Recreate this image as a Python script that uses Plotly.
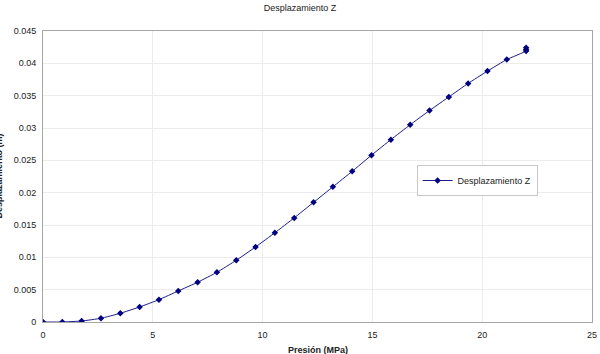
import plotly.graph_objects as go

presion = [0.0, 0.88, 1.76, 2.64, 3.52, 4.40, 5.28, 6.16, 7.04, 7.92, 8.80, 9.68,
           10.56, 11.44, 12.32, 13.20, 14.08, 14.96, 15.84, 16.72, 17.60, 18.48,
           19.36, 20.24, 21.12, 22.0, 22.0, 22.0]
desplazamiento = [0.0, 0.0, 0.00015, 0.00057, 0.00134, 0.00232, 0.00345, 0.0048,
                  0.00614, 0.00768, 0.00954, 0.0116, 0.0138, 0.0161, 0.0185, 0.0209,
                  0.0233, 0.0258, 0.0282, 0.0305, 0.0327, 0.0348, 0.0369, 0.0388,
                  0.0406, 0.0419, 0.0421, 0.0424]

FONT = "Liberation Sans, Arial, sans-serif"
L, R, T, B = 43, 3, 31, 32
W, H = 600, 354
PW, PH = W - L - R, H - T - B

fig = go.Figure()
fig.add_trace(go.Scatter(
    x=presion, y=desplazamiento, mode="lines+markers",
    name="Desplazamiento Z",
    line=dict(color="#1c1c8e", width=1, shape="spline", smoothing=0.3),
    marker=dict(symbol="diamond", size=5, color="#000080"),
))

axis_common = dict(
    showline=True, linecolor="#a6a6a6", linewidth=1, mirror=True,
    showgrid=True, gridcolor="#ececec", gridwidth=1, zeroline=False,
    ticks="outside", ticklen=4, tickcolor="rgba(0,0,0,0)",
    tickfont=dict(family=FONT, size=9, color="#222222"),
    ticklabeloverflow="allow",
)

fig.update_layout(
    width=W, height=H,
    margin=dict(l=L, r=R, t=T, b=B, pad=0),
    paper_bgcolor="white", plot_bgcolor="white",
    title=dict(text="Desplazamiento Z", x=0.5, xref="container", xanchor="center",
               y=1 - 8 / H, yref="container", yanchor="middle",
               font=dict(family=FONT, size=9, color="#222222")),
    xaxis=dict(range=[0, 25], tickvals=[0, 5, 10, 15, 20, 25], **axis_common),
    yaxis=dict(range=[0, 0.045], tickvals=[0, 0.005, 0.01, 0.015, 0.02, 0.025,
                                           0.03, 0.035, 0.04, 0.045],
               ticktext=["0", "0.005", "0.01", "0.015", "0.02", "0.025", "0.03",
                         "0.035", "0.04", "0.045"], **axis_common),
    showlegend=True,
    legend=dict(x=(420 - L) / PW, y=(H - B - 165) / PH, xanchor="left", yanchor="top",
                bgcolor="white", bordercolor="#c8c8c8", borderwidth=1,
                font=dict(family=FONT, size=9, color="#222222"),
                itemwidth=30, tracegroupgap=0),
    annotations=[
        dict(text="<b>Presión (MPa)</b>", xref="paper", yref="paper",
             x=(320 - L) / PW, y=-(350 - (H - B)) / PH, xanchor="center", yanchor="middle",
             showarrow=False, font=dict(family=FONT, size=9, color="#222222")),
        dict(text="<b>Desplazamiento (m)</b>", xref="paper", yref="paper",
             x=(-1 - L) / PW, y=(H - B - 176) / PH, xanchor="center", yanchor="middle",
             textangle=-90, showarrow=False,
             font=dict(family=FONT, size=9, color="#222222")),
    ],
)

fig.write_html("out.html")
